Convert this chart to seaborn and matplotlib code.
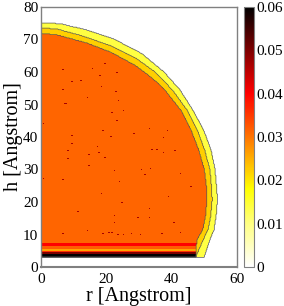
import numpy as np
import pandas as pd
import matplotlib
matplotlib.use("Agg")
import matplotlib.pyplot as plt
from matplotlib.colors import LinearSegmentedColormap
import seaborn as sns

# boundaries of the density bands
h_edge = [3.1, 5.0, 8.3, 11.4, 16.0, 20.6, 23.7, 30.0, 36.0, 42.0, 48.0, 54.5, 60.0, 65.6, 70.0, 73.0, 74.8, 75.1]
r_outer = [49.9, 50.5, 51.6, 52.9, 53.6, 54.0, 53.8, 53.2, 52.0, 49.8, 46.6, 42.5, 37.6, 30.9, 22.5, 13.5, 6.0, 0.0]
h_gold = [3.1, 5.0, 8.3, 11.4, 16.0, 20.6, 23.7, 30.0, 36.0, 42.0, 48.0, 54.5, 60.0, 64.0, 68.0, 71.0, 73.2, 73.6]
r_gold = [47.4, 48.2, 49.6, 51.1, 52.0, 52.4, 52.3, 51.7, 50.1, 47.9, 44.9, 40.2, 34.9, 29.4, 21.5, 13.0, 5.0, 0.0]
h_core = [3.1, 8.3, 11.4, 16.0, 20.6, 23.7, 30.0, 36.0, 42.0, 48.0, 54.5, 58.0, 62.0, 66.0, 69.0, 71.4, 71.9]
r_core = [47.4, 47.7, 49.5, 50.4, 50.8, 50.8, 50.0, 48.3, 46.0, 43.0, 37.9, 34.2, 28.9, 21.6, 13.8, 5.0, 0.0]

level_outer = 0.014
level_gold = 0.0222
level_core = 0.0312
level_speck = 0.047

# layering next to the wall: lower edge of each layer and its density
layer_h = [3.1, 3.9, 4.5, 5.0, 5.4, 5.8, 6.1, 6.6, 7.4]
layer_rho = [0.06, 0.05, 0.036, 0.026, 0.032, 0.023, 0.032, 0.040, level_core]

# dark specks in the liquid
speck_r = [19.4, 15.7, 6.6, 23.0, 9.3, 12.1, 17.8, 18.3, 6.5, 7.0, 7.5, 14.0, 13.1, 22.9, 23.5, 21.7, 25.2, 23.1, 0.5, 6.5,
           18.9, 24.2, 24.6, 9.3, 4.5, 9.3, 17.1, 23.4, 21.4, 8.1, 14.5, 17.5, 19.4, 8.1, 14.5, 22.3, 24.7, 0.5, 6.5, 23.8,
           13.7, 18.3, 15.2, 24.5, 11.2, 22.3, 22.3, 14.0, 20.6, 18.9, 21.6, 23.4, 25.0, 6.5, 30.3, 30.6, 33.0, 28.3, 38.7,
           37.4, 33.9, 35.4, 37.4, 40.8, 33.3, 31.6, 30.5, 44.0, 42.5, 45.8, 38.9, 33.0, 29.5, 33.0, 40.5, 27.7, 30.3, 36.9, 42.5]
speck_h = [62.7, 61.1, 60.9, 59.9, 57.1, 57.3, 58.8, 55.7, 54.7, 50.4, 50.4, 52.1, 48.7, 54.0, 51.0, 47.6, 48.0, 45.1, 44.2, 43.4,
           42.1, 43.3, 40.5, 40.3, 37.9, 38.1, 37.1, 36.5, 40.1, 35.8, 34.6, 35.0, 33.7, 33.3, 31.1, 29.6, 28.6, 27.0, 26.8, 26.4,
           23.4, 22.7, 20.5, 19.8, 17.0, 15.8, 13.6, 11.0, 10.6, 10.4, 10.6, 10.2, 10.2, 10.4, 47.3, 45.8, 42.7, 41.2, 42.2,
           39.8, 36.0, 36.0, 35.0, 35.8, 30.4, 28.3, 30.2, 29.9, 28.9, 24.8, 21.7, 18.1, 15.0, 15.0, 13.5, 10.4, 10.2, 10.4, 10.6]

x_ticks = [0, 20, 40, 60]
y_ticks = [0, 10, 20, 30, 40, 50, 60, 70, 80]
cbar_ticks = [0, 0.01, 0.02, 0.03, 0.04, 0.05, 0.06]
cbar_labels = ["0", "0.01", "0.02", "0.03", "0.04", "0.05", "0.06"]

cell = 0.25
r_axis = np.arange(0, 60, cell) + cell / 2
h_axis = np.arange(0, 80, cell) + cell / 2
R, H = np.meshgrid(r_axis, h_axis)


def inside(hs, rs):
    return (H >= hs[0]) & (H <= hs[-1]) & (R <= np.interp(H, hs, rs))


field = np.zeros_like(R)
field[inside(h_edge, r_outer)] = level_outer
field[inside(h_gold, r_gold)] = level_gold
core = inside(h_core, r_core)
field[core] = level_core
for lo, rho in zip(layer_h, layer_rho):
    field[core & (H >= lo)] = rho
bands = field.copy()
bands[core] = level_core

for r0, h0 in zip(speck_r, speck_h):
    j, i = int(r0 / cell), int(h0 / cell)
    field[i, j:j + 2] = level_speck

df = pd.DataFrame(field, index=h_axis, columns=r_axis)

cmap = LinearSegmentedColormap.from_list("gnuplot_hot", [
    (0.0, "#ffffff"), (0.01 / 0.06, "#ffff80"), (0.018 / 0.06, "#ffff00"),
    (0.04 / 0.06, "#ff0000"), (0.05 / 0.06, "#800000"), (1.0, "#000000")])

sns.set_theme(style="white")
plt.rcParams["font.family"] = ["Liberation Serif", "DejaVu Serif"]
W, Hpx = 284, 306
fig = plt.figure(figsize=(W / 100, Hpx / 100), dpi=100)
ax = fig.add_axes([41 / W, 1 - 267 / Hpx, 196 / W, 260 / Hpx])
cax = fig.add_axes([244 / W, 1 - 267 / Hpx, 9.5 / W, 260 / Hpx])
sns.heatmap(df, ax=ax, cbar_ax=cax, cmap=cmap, vmin=0, vmax=0.06,
            xticklabels=False, yticklabels=False, rasterized=True)
ax.invert_yaxis()
ax.contour(r_axis / cell, h_axis / cell, bands, levels=[0.004, 0.018, 0.027],
           colors="#555555", linewidths=0.5)

gray = "#808080"
ax.set_xticks([v / cell for v in x_ticks], [str(v) for v in x_ticks])
ax.set_yticks([v / cell for v in y_ticks], [str(v) for v in y_ticks])
ax.tick_params(axis="both", length=2, width=0.6, color=gray, direction="in", labelsize=11,
               labelcolor="black", labelrotation=0)
ax.tick_params(axis="x", pad=4)
ax.tick_params(axis="y", pad=2)
for s in ax.spines.values():
    s.set_visible(True)
    s.set_color(gray)
    s.set_linewidth(1.0)
ax.spines["bottom"].set_linewidth(1.5)
ax.set_xlabel("r [Angstrom]", fontsize=14.5, labelpad=1, color="black")
ax.set_ylabel("h [Angstrom]", fontsize=14.5, labelpad=0, color="black")

cax.set_yticks(cbar_ticks, cbar_labels)
cax.tick_params(axis="y", length=2.5, width=0.6, color=gray, direction="in", labelsize=11,
                labelcolor="black", pad=2, right=True)
cbar = ax.collections[0].colorbar
cbar.outline.set_visible(True)
cbar.outline.set_edgecolor(gray)
cbar.outline.set_linewidth(0.8)

fig.savefig("out.png", dpi=100)
